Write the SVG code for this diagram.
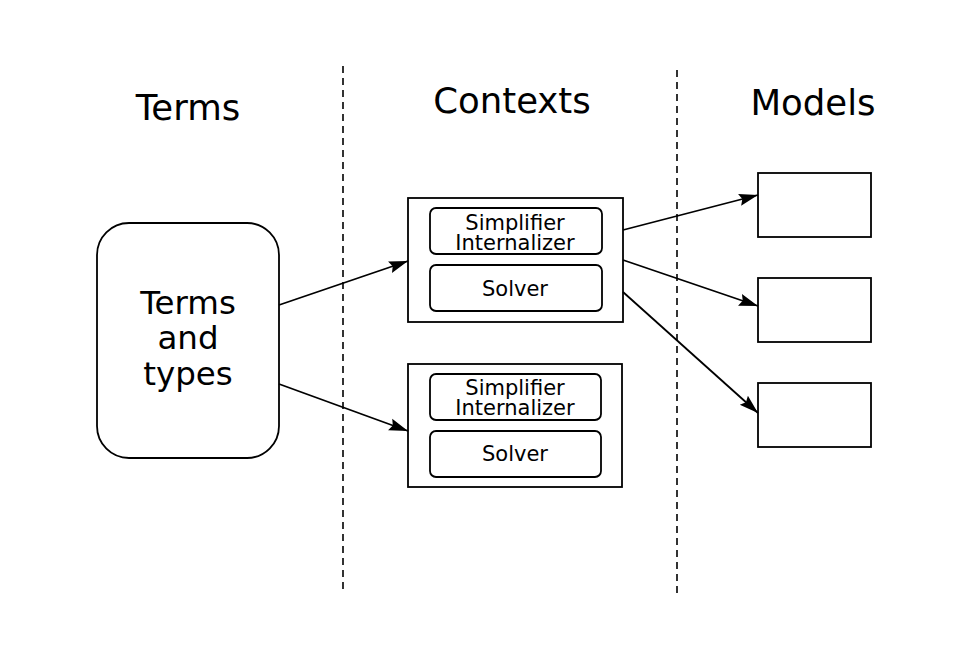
<svg xmlns="http://www.w3.org/2000/svg" width="965" height="654" viewBox="0 0 965 654">
<style>
text{font-family:"DejaVu Sans",sans-serif;fill:#000;text-anchor:middle}
.h{font-size:35.5px}
.big{font-size:32.5px}
.sm{font-size:21px}
.box{fill:#fff;stroke:#000;stroke-width:1.8}
.dash{stroke:#000;stroke-width:1.6;stroke-dasharray:7,5;fill:none}
.con{stroke:#000;stroke-width:1.8;fill:none;marker-end:url(#ah)}
</style>
<defs>
<marker id="ah" viewBox="0 0 10 10" refX="10" refY="5" markerWidth="19" markerHeight="19" markerUnits="userSpaceOnUse" orient="auto">
<path d="M0,1.8 L10,5 L0,8.2 L1.5,5 Z" fill="#000"/>
</marker>
</defs>
<rect width="965" height="654" fill="#fff"/>
<g id="headings">
<text class="h" x="188" y="120">Terms</text>
<text class="h" x="512" y="113">Contexts</text>
<text class="h" x="813" y="115">Models</text>
</g>
<g id="separators">
<line class="dash" x1="343" y1="66" x2="343" y2="594"/>
<line class="dash" x1="677" y1="70" x2="677" y2="598"/>
</g>
<g id="terms-and-types">
<rect class="box" x="97" y="223" width="182" height="235" rx="32" ry="32"/>
<text class="big" x="188" y="314">Terms</text>
<text class="big" x="188" y="349">and</text>
<text class="big" x="188" y="385">types</text>
</g>
<g id="context1">
<rect class="box" x="408" y="198" width="215" height="124"/>
<rect class="box" x="430" y="208" width="172" height="46" rx="6"/>
<text class="sm" x="515" y="230">Simplifier</text>
<text class="sm" x="515" y="250">Internalizer</text>
<rect class="box" x="430" y="265" width="172" height="46" rx="6"/>
<text class="sm" x="515" y="296">Solver</text>
</g>
<g id="context2">
<rect class="box" x="408" y="364" width="214" height="123"/>
<rect class="box" x="430" y="374" width="171" height="46" rx="6"/>
<text class="sm" x="515" y="395">Simplifier</text>
<text class="sm" x="515" y="415">Internalizer</text>
<rect class="box" x="430" y="431" width="171" height="46" rx="6"/>
<text class="sm" x="515" y="461">Solver</text>
</g>
<g id="model1"><rect class="box" x="758" y="173" width="113" height="64"/></g>
<g id="model2"><rect class="box" x="758" y="278" width="113" height="64"/></g>
<g id="model3"><rect class="box" x="758" y="383" width="113" height="64"/></g>
<g id="connectors">
<line class="con" x1="279" y1="305" x2="408" y2="261"/>
<line class="con" x1="279" y1="384" x2="408" y2="431"/>
<line class="con" x1="623" y1="230" x2="758" y2="195"/>
<line class="con" x1="623" y1="260" x2="758" y2="306"/>
<line class="con" x1="623" y1="292" x2="758" y2="413"/>
</g>
</svg>
